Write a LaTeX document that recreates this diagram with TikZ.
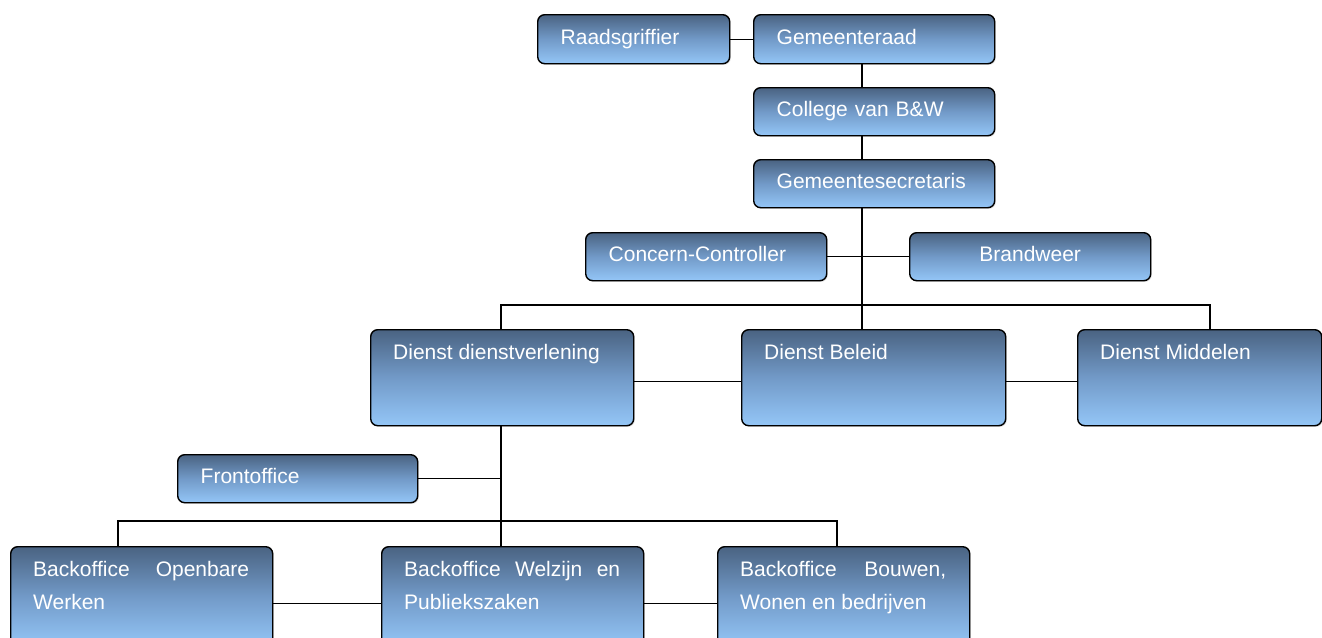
\documentclass[tikz,border=0pt]{standalone}
\usepackage{fontspec}
\setmainfont{Liberation Sans}
\usetikzlibrary{positioning,shadows}
\definecolor{org_dark}{RGB}{74,99,130}
\definecolor{org_mid}{RGB}{114,154,200}
\definecolor{org_light}{RGB}{148,198,247}
\tikzset{
  orgbox/.style={draw=black, line width=1.4pt, rounded corners=7pt,
    top color=org_dark, bottom color=org_light, middle color=org_mid,
    drop shadow={shadow xshift=1.2pt, shadow yshift=-1.2pt, opacity=0.25},
    anchor=north west, inner xsep=23pt, inner ysep=0pt, align=left,
    text=white, font=\fontsize{21}{33}\selectfont,
    text height=15pt, text depth=4.5pt},
  boxw/.code={\pgfmathsetmacro\orgtw{#1-46}%
    \pgfkeysalso{minimum width=#1pt, text width=\orgtw pt}},
  orgtext/.style={text=white, font=\fontsize{21}{33}\selectfont,
    inner sep=0pt, anchor=north west, align=justify},
  orglink/.style={line width=1.2pt}
}
\newcommand{\tallbox}[6]{% #1 = name, #2 = x, #3 = y, #4 = breedte, #5 = hoogte, #6 = tekst
  \pgfmathsetmacro{\tallwd}{#4-46}
  \node[orgbox, minimum width=#4pt, minimum height=#5pt] (#1) at (#2,#3) {};
  \node[orgtext, text width=\tallwd pt, below right=15pt and 23pt of #1.north west] (#1txt) {#6};
}

\begin{document}
\begin{tikzpicture}[x=1pt, y=-1pt]
  \useasboundingbox (0,0) rectangle (1322,637);
  % bestuur
  \node[orgbox, boxw=192, minimum height=49] (rg) at (537,14) {Raadsgriffier};
  \node[orgbox, boxw=241, minimum height=49] (gr) at (753,14) {Gemeenteraad};
  \node[orgbox, boxw=241, minimum height=48] (cvb) at (753,87) {College van B\&W};
  \node[orgbox, boxw=241, minimum height=48] (gs) at (753,159) {Gemeentesecretaris};
  \node[orgbox, boxw=241, minimum height=48] (cc) at (585,232) {Concern-Controller};
  \node[orgbox, boxw=241, minimum height=48, align=center] (brw) at (909,232) {Brandweer};
  % diensten
  \tallbox{dv}{370}{329}{263}{96}{Dienst dienstverlening}
  \tallbox{db}{741}{329}{264}{96}{Dienst Beleid}
  \tallbox{dm}{1077}{329}{244}{96}{Dienst Middelen}
  \node[orgbox, boxw=240, minimum height=48] (fo) at (177,454) {Frontoffice};
  \tallbox{bo}{10}{546}{262}{100}{Backoffice Openbare Werken}
  \tallbox{bwp}{381}{546}{262}{100}{Backoffice Welzijn en Publiekszaken}
  \tallbox{bbw}{717}{546}{252}{100}{Backoffice Bouwen, Wonen en bedrijven}

  \coordinate (trunk) at (862,305);
  \coordinate (mid) at (1210,305);
  \coordinate (back) at (501,521);
  \coordinate (backl) at (118,521);
  \coordinate (backr) at (837,521);

  \draw[orglink] (rg.east) -- (gr.west);
  \draw[orglink] (gr.south -| trunk) -- (cvb.north -| trunk);
  \draw[orglink] (cvb.south -| trunk) -- (gs.north -| trunk);
  \draw[orglink] (gs.south -| trunk) -- (db.north -| trunk);
  \draw[orglink] (cc.east) -- (brw.west);
  \draw[orglink] (dv.north -| back) |- (mid) -- (mid |- dm.north);
  \draw[orglink] ([yshift=-4pt]dv.east) -- ([yshift=-4pt]db.west);
  \draw[orglink] ([yshift=-4pt]db.east) -- ([yshift=-4pt]dm.west);
  \draw[orglink] (dv.south -| back) -- (bwp.north -| back);
  \draw[orglink] (fo.east) -- (fo.east -| back);
  \draw[orglink] (bo.north -| backl) |- (backr) -- (bbw.north -| backr);
  \draw[orglink] ([yshift=-7pt]bo.east) -- ([yshift=-7pt]bwp.west);
  \draw[orglink] ([yshift=-7pt]bwp.east) -- ([yshift=-7pt]bbw.west);
\end{tikzpicture}
\end{document}
